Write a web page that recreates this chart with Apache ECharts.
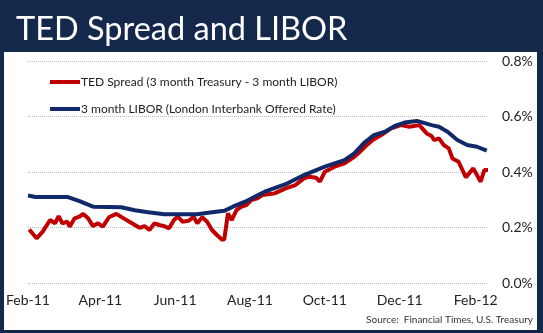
<!DOCTYPE html>
<html>
<head>
<meta charset="utf-8">
<script src="https://cdn.jsdelivr.net/npm/echarts@6/dist/echarts.min.js"></script>
<style>html,body{margin:0;padding:0;background:#13284b;}#c{width:543px;height:333px;}</style>
</head>
<body>
<div id="c"></div>
<script>
const titleText = 'TED Spread and LIBOR';
const sourceText = 'Source:  Financial Times, U.S. Treasury';
const seriesNames = ['TED Spread (3 month Treasury - 3 month LIBOR)', '3 month LIBOR (London Interbank Offered Rate)'];

const xTickDates = ['2011-02-01','2011-04-01','2011-06-01','2011-08-01','2011-10-01','2011-12-01','2012-02-01'];
const xTickLabels = ['Feb-11','Apr-11','Jun-11','Aug-11','Oct-11','Dec-11','Feb-12'];
const xRange = ['2011-02-01', '2012-02-11'];
const yTickValues = [0, 0.2, 0.4, 0.6, 0.8];

const tedDates = ['2011-02-02','2011-02-08','2011-02-13','2011-02-19','2011-02-23','2011-02-26','2011-03-01','2011-03-05','2011-03-07','2011-03-11','2011-03-15','2011-03-18','2011-03-22','2011-03-26','2011-03-30','2011-04-03','2011-04-08','2011-04-14','2011-04-20','2011-04-26','2011-05-03','2011-05-07','2011-05-11','2011-05-15','2011-05-19','2011-05-23','2011-05-27','2011-05-31','2011-06-03','2011-06-07','2011-06-12','2011-06-16','2011-06-19','2011-06-23','2011-06-27','2011-07-01','2011-07-05','2011-07-09','2011-07-11','2011-07-14','2011-07-17','2011-07-21','2011-07-25','2011-07-29','2011-08-02','2011-08-07','2011-08-11','2011-08-17','2011-08-21','2011-08-30','2011-09-07','2011-09-14','2011-09-18','2011-09-24','2011-09-27','2011-10-01','2011-10-09','2011-10-17','2011-10-25','2011-10-29','2011-11-02','2011-11-09','2011-11-16','2011-11-24','2011-12-02','2011-12-09','2011-12-17','2011-12-23','2011-12-27','2011-12-29','2012-01-02','2012-01-06','2012-01-10','2012-01-13','2012-01-18','2012-01-24','2012-01-30','2012-02-05','2012-02-08','2012-02-11'];
const tedValues = [0.193,0.161,0.185,0.227,0.215,0.241,0.215,0.221,0.203,0.233,0.239,0.249,0.233,0.205,0.215,0.203,0.237,0.249,0.233,0.217,0.199,0.205,0.191,0.215,0.209,0.205,0.197,0.227,0.239,0.221,0.224,0.239,0.215,0.237,0.221,0.191,0.173,0.157,0.157,0.251,0.227,0.263,0.275,0.281,0.299,0.305,0.317,0.321,0.323,0.341,0.353,0.377,0.383,0.379,0.365,0.401,0.419,0.431,0.455,0.470,0.488,0.515,0.533,0.557,0.569,0.563,0.569,0.539,0.530,0.515,0.521,0.497,0.485,0.449,0.437,0.381,0.413,0.365,0.407,0.407];

const liborDates = ['2011-02-01','2011-02-07','2011-03-05','2011-03-15','2011-03-26','2011-04-18','2011-04-29','2011-05-10','2011-05-23','2011-06-19','2011-07-01','2011-07-11','2011-07-18','2011-07-28','2011-08-08','2011-08-13','2011-08-30','2011-09-14','2011-10-01','2011-10-17','2011-10-25','2011-11-02','2011-11-10','2011-11-19','2011-11-27','2011-12-05','2011-12-15','2011-12-20','2011-12-27','2012-01-02','2012-01-09','2012-01-17','2012-01-25','2012-02-02','2012-02-10'];
const liborValues = [0.315,0.310,0.310,0.295,0.275,0.273,0.262,0.255,0.248,0.248,0.255,0.260,0.275,0.293,0.318,0.329,0.356,0.389,0.419,0.443,0.467,0.505,0.533,0.545,0.566,0.578,0.584,0.578,0.569,0.563,0.545,0.515,0.497,0.491,0.477];

const FONT = 'Lato';
const t = d => echarts.time.parse(d).getTime();
const chart = echarts.init(document.getElementById('c'), null, {renderer: 'canvas'});
const toPairs = (ds, vs) => ds.map((d, i) => [t(d), vs[i]]);
const tickTimes = xTickDates.map(t);

chart.setOption({
  backgroundColor: '#13284b',
  animation: false,
  graphic: [
    {type: 'rect', z: -10, shape: {x: 4, y: 52, width: 533, height: 278}, style: {fill: '#ffffff'}},
    {type: 'text', right: 10, top: 315, style: {text: sourceText, font: '10px ' + FONT, fill: '#333'}}
  ],
  title: {
    text: titleText, left: 11, top: 8,
    textStyle: {color: '#ffffff', fontFamily: FONT, fontSize: 32.5, fontWeight: 'normal'}
  },
  legend: {
    orient: 'vertical', left: 45, top: 70, itemGap: 13,
    icon: 'rect', itemWidth: 30, itemHeight: 4,
    textStyle: {fontFamily: FONT, fontSize: 12, color: '#222', lineHeight: 14, padding: [0, 0, 0, -4]},
    data: seriesNames
  },
  grid: {left: 28, right: 55, top: 61, bottom: 50},
  xAxis: {
    type: 'value',
    min: t(xRange[0]), max: t(xRange[1]),
    axisLine: {show: false}, axisTick: {show: false}, splitLine: {show: false},
    axisLabel: {
      customValues: tickTimes,
      margin: 10,
      fontFamily: FONT, fontSize: 14, color: '#222',
      formatter: function (v) {
        const i = tickTimes.indexOf(+v);
        return i >= 0 ? xTickLabels[i] : '';
      }
    }
  },
  yAxis: {
    type: 'value', position: 'right',
    min: yTickValues[0], max: yTickValues[yTickValues.length - 1], interval: 0.2,
    axisLine: {show: false}, axisTick: {show: false},
    splitLine: {show: true, lineStyle: {color: '#bbbbbb', type: 'dotted', width: 1}},
    axisLabel: {margin: 14, fontFamily: FONT, fontSize: 14, color: '#222', formatter: v => v.toFixed(1) + '%'}
  },
  series: [
    {name: seriesNames[0], type: 'line', data: toPairs(tedDates, tedValues), showSymbol: false, symbol: 'none',
     color: '#c00000', lineStyle: {width: 4, color: '#c00000'}, z: 3},
    {name: seriesNames[1], type: 'line', data: toPairs(liborDates, liborValues), showSymbol: false, symbol: 'none',
     color: '#10296a', lineStyle: {width: 4, color: '#10296a'}, z: 4}
  ]
});
</script>
</body>
</html>
